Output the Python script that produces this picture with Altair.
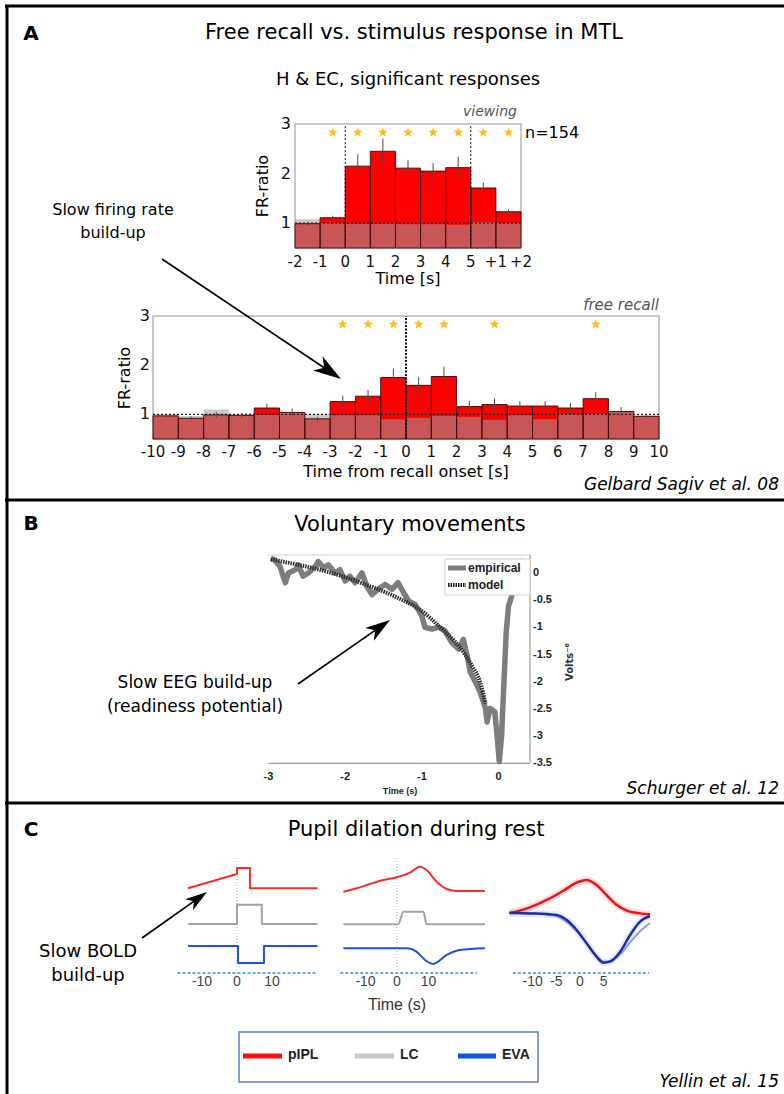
import math
import altair as alt
import pandas as pd

FONT = "DejaVu Sans"
ARIAL = "Liberation Sans"

# ====================== DATA ======================
# ---- Panel A, top: stimulus viewing (FR-ratio per 1 s bin) ----
view_tick_pos = [-2, -1, 0, 1, 2, 3, 4, 5, 6, 7]
view_tick_lab = ["-2", "-1", "0", "1", "2", "3", "4", "5", "+1", "+2"]
view_bin_left = [-2, -1, 0, 1, 2, 3, 4, 5, 6]
view_fr = [0.99, 1.11, 2.15, 2.45, 2.11, 2.05, 2.12, 1.71, 1.23]
view_base = [1.08, 1.00, 0.99, 0.99, 0.98, 0.98, 0.97, 1.02, 1.00]
view_err = [0.04, 0.04, 0.24, 0.26, 0.16, 0.16, 0.22, 0.11, 0.05]
view_star = [0, 1, 1, 1, 1, 1, 1, 1, 1]
view_onoff = [0, 5]

# ---- Panel A, bottom: free recall ----
recall_tick_pos = list(range(-10, 11))
recall_tick_lab = [str(v) for v in recall_tick_pos]
recall_bin_left = list(range(-10, 10))
recall_fr = [0.97, 0.92, 0.99, 0.98, 1.13, 1.04, 0.91, 1.26, 1.37, 1.75,
             1.59, 1.77, 1.16, 1.20, 1.17, 1.17, 1.13, 1.32, 1.06, 0.96]
recall_base = [1.00, 0.97, 1.10, 1.00, 0.99, 1.03, 1.00, 0.98, 0.98, 0.90,
               0.93, 0.97, 0.95, 0.89, 0.98, 0.90, 1.00, 1.01, 1.07, 0.98]
recall_err = [0.04, 0.04, 0.06, 0.05, 0.09, 0.08, 0.04, 0.12, 0.13, 0.18,
              0.17, 0.20, 0.12, 0.13, 0.10, 0.10, 0.10, 0.13, 0.09, 0.04]
recall_star = [0, 0, 0, 0, 0, 0, 0, 1, 1, 1, 1, 1, 0, 1, 0, 0, 0, 1, 0, 0]
recall_onset = [0]

fr_ticks = [1, 2, 3]
fr_ref = 1.0
star_level = 2.83

# ---- Panel B: readiness potential ----
eeg_t = [-2.97, -2.92, -2.85, -2.80, -2.78, -2.74, -2.65, -2.61, -2.55, -2.48,
         -2.39, -2.35, -2.28, -2.22, -2.13, -2.07, -2.00, -1.94, -1.87, -1.78,
         -1.72, -1.65, -1.57, -1.48, -1.39, -1.31, -1.24, -1.17, -1.09, -1.00,
         -0.96, -0.87, -0.78, -0.70, -0.61, -0.52, -0.46, -0.41, -0.37, -0.30,
         -0.24, -0.17, -0.15, -0.11, -0.05, -0.02, 0.01, 0.04, 0.07, 0.10,
         0.13, 0.17, 0.20, 0.26, 0.33]
eeg_v = [0.27, 0.24, 0.12, -0.10, -0.18, 0.00, 0.06, 0.15, -0.06, 0.00,
         0.12, 0.21, 0.09, 0.15, 0.00, 0.06, -0.15, -0.06, -0.18, 0.00,
         -0.24, -0.40, -0.30, -0.21, -0.30, -0.18, -0.36, -0.52, -0.58, -0.79,
         -1.00, -1.03, -1.00, -1.06, -1.28, -1.40, -1.22, -1.52, -1.82, -2.01,
         -2.19, -2.49, -2.74, -2.49, -2.55, -2.98, -3.47, -2.98, -2.01, -1.09,
         -0.61, -0.43, -0.18, 0.06, 0.25]
model_t = [-2.97, -2.61, -2.18, -1.74, -1.31, -1.00, -0.74, -0.52, -0.35, -0.24, -0.17]
model_v = [0.25, 0.15, 0.00, -0.21, -0.46, -0.70, -1.03, -1.34, -1.70, -2.01, -2.40]
volt_ticks = [0, -0.5, -1, -1.5, -2, -2.5, -3, -3.5]
volt_labels = ["0", "-0.5", "-1", "-1.5", "-2", "-2.5", "-3", "-3.5"]
time_b_ticks = [-3, -2, -1, 0]

# ---- Panel C: BOLD / pupil (arbitrary units, stacked traces) ----
c1_red_t = [-14, 0, 0, 3.7, 3.7, 23]
c1_red_v = [77, 90, 95.5, 95.5, 77, 77]
c1_gray_t = [-14, 0, 0, 7.1, 7.1, 23]
c1_gray_v = [44.5, 44.5, 62, 62, 44.5, 44.5]
c1_blue_t = [-14, 0.3, 0.3, 7.7, 7.7, 23]
c1_blue_v = [24.5, 24.5, 9, 9, 24.5, 24.5]

c2_red_t = [-17, -12.8, -8.6, -4.3, 0, 4.1, 7.3, 9.4, 12.6, 15.8, 19, 27.9]
c2_red_v = [73.9, 77, 80.9, 84.5, 87, 91.2, 96.6, 93.6, 83, 76.4, 74.5, 74.5]
c2_gray_t = [-17, 0.4, 2.0, 8.4, 9.4, 27.9]
c2_gray_v = [44.3, 44.3, 55.7, 55.7, 44.3, 44.3]
c2_blue_t = [-17, 3.1, 6.2, 8.9, 11.5, 15.8, 20, 27.9]
c2_blue_v = [22.4, 22.4, 19.4, 11.8, 8.2, 16.4, 20.9, 22.4]

c3_red_t = [-14.9, -10.6, -7.0, -3.5, -0.7, 1.4, 3.5, 5.6, 7.8, 9.9, 12.7, 14.8]
c3_red_v = [54.2, 59.7, 66.4, 74.8, 82.1, 84.5, 80, 70.9, 61.8, 56.7, 54.2, 53.3]
c3_blue_t = [-14.9, -10.6, -7.0, -4.9, -2.8, -0.7, 1.4, 3.5, 4.9, 6.3, 8.5, 10.6, 12.7, 14.8]
c3_blue_v = [54.8, 54.2, 53.6, 52.7, 48.2, 39.1, 27, 14.8, 9.4, 10.3, 19.4, 34.5, 46.7, 51.8]
c3_blue2_v = [54.8, 54.2, 53.0, 51.5, 46.5, 38, 27, 15.5, 10.5, 11, 17, 28, 38, 45.5]

c1_ticks = [-10, 0, 10]
c2_ticks = [-10, 0, 10]
c3_ticks = [-10, -5, 0, 5]
c_base_span1 = [-17, 22.6]
c_base_span2 = [-18, 25.3]
c_base_span3 = [-14.2, 14.6]
c_zero_span = [0, 105]

legend_c = ["pIPL", "LC", "EVA"]

# ====================== HELPERS ======================
W, H = 784, 1094
layers = []


def sc(dom, rng):
    return alt.Scale(domain=list(dom), range=list(rng), nice=False, zero=False)


def one(**kw):
    return pd.DataFrame({k: [v] for k, v in kw.items()})


def txt(text, x, y, size=16, weight="normal", style="normal", align="center",
        color="black", angle=0, font=FONT):
    layers.append(
        alt.Chart(one(t=text)).mark_text(
            align=align, baseline="middle", fontSize=size, fontWeight=weight,
            fontStyle=style, font=font, color=color, angle=angle
        ).encode(x=alt.value(x), y=alt.value(y), text="t:N")
    )


def hrule(x0, x1, y, color="black", width=3):
    layers.append(alt.Chart(one(a=0)).mark_rule(color=color, strokeWidth=width).encode(
        x=alt.value(x0), x2=alt.value(x1), y=alt.value(y)))


def vrule(x, y0, y1, color="black", width=3):
    layers.append(alt.Chart(one(a=0)).mark_rule(color=color, strokeWidth=width).encode(
        x=alt.value(x), y=alt.value(y0), y2=alt.value(y1)))


ARROW = "M0,-1 L0.62,1 L0,0.45 L-0.62,1 Z"
_pts = []
for k in range(10):
    r = 1.0 if k % 2 == 0 else 0.42
    a = -math.pi / 2 + k * math.pi / 5
    _pts.append(f"{r * math.cos(a):.3f},{r * math.sin(a):.3f}")
STAR = "M" + " L".join(_pts) + " Z"


def arrow(x0, y0, x1, y1, head=26, width=1.7):
    dx, dy = x1 - x0, y1 - y0
    L = math.hypot(dx, dy)
    ux, uy = dx / L, dy / L
    cx, cy = x1 - ux * head / 2, y1 - uy * head / 2
    ang = math.degrees(math.atan2(dx, -dy)) % 360
    layers.append(alt.Chart(one(a=0)).mark_rule(color="black", strokeWidth=width).encode(
        x=alt.value(x0), y=alt.value(y0), x2=alt.value(cx), y2=alt.value(cy)))
    layers.append(alt.Chart(one(a=0)).mark_point(
        shape=ARROW, filled=True, color="black", opacity=1, size=head * head,
        angle=ang, strokeWidth=0).encode(x=alt.value(cx), y=alt.value(cy)))


def bar_panel(left, fr, base, err, star, xdom, xr, ydom, yr, tpos, tlab,
              vlines, vdash, vwidth, tick_y, ylab_x):
    xs, ys = sc(xdom, xr), sc(ydom, yr)
    X = lambda f: alt.X(f, scale=xs, axis=None)
    Y = lambda f: alt.Y(f, scale=ys, axis=None)
    df = pd.DataFrame({"x0": left, "fr": fr, "base": base, "err": err, "star": star})
    df["x1"] = df["x0"] + 1
    df["xc"] = df["x0"] + 0.5
    df["lo"] = df["fr"] - df["err"]
    df["hi"] = df["fr"] + df["err"]
    df["b"] = ydom[0]
    df["s"] = star_level
    frame = one(x0=xdom[0], x1=xdom[1], y0=ydom[0], y1=ydom[1])
    layers.append(alt.Chart(frame).mark_rect(fill="white", stroke="#b8b8b8", strokeWidth=1.5)
                  .encode(x=X("x0:Q"), x2="x1:Q", y=Y("y0:Q"), y2="y1:Q"))
    layers.append(alt.Chart(df).mark_rect(color="#ff0000")
                  .encode(x=X("x0:Q"), x2="x1:Q", y=Y("fr:Q"), y2="b:Q"))
    layers.append(alt.Chart(df).mark_rect(color="#9c9c9c", opacity=0.55)
                  .encode(x=X("x0:Q"), x2="x1:Q", y=Y("base:Q"), y2="b:Q"))
    layers.append(alt.Chart(df).mark_rect(fillOpacity=0, stroke="#3a0606", strokeWidth=0.9)
                  .encode(x=X("x0:Q"), x2="x1:Q", y=Y("fr:Q"), y2="b:Q"))
    layers.append(alt.Chart(one(x0=xdom[0], x1=xdom[1], y=fr_ref))
                  .mark_rule(color="#222", strokeWidth=1.3, strokeDash=[2, 2])
                  .encode(x=X("x0:Q"), x2="x1:Q", y=Y("y:Q")))
    vdf = pd.DataFrame({"x": vlines, "y0": ydom[0], "y1": ydom[1]})
    layers.append(alt.Chart(vdf).mark_rule(color="#111", strokeWidth=vwidth, strokeDash=vdash)
                  .encode(x=X("x:Q"), y=Y("y0:Q"), y2="y1:Q"))
    layers.append(alt.Chart(df).mark_rule(color="#5a4444", strokeWidth=1)
                  .encode(x=X("xc:Q"), y=Y("lo:Q"), y2="hi:Q"))
    sdf = df[df["star"] == 1].reset_index(drop=True)
    layers.append(alt.Chart(sdf).mark_point(
        shape=STAR, filled=True, color="#ffbf1a", size=110, opacity=1, strokeWidth=0)
        .encode(x=X("xc:Q"), y=Y("s:Q")))
    tdf = pd.DataFrame({"x": tpos, "lab": tlab})
    layers.append(alt.Chart(tdf).mark_text(fontSize=15, font=FONT, color="#111", baseline="middle")
                  .encode(x=X("x:Q"), y=alt.value(tick_y), text="lab:N"))
    ydf = pd.DataFrame({"y": fr_ticks, "lab": [str(v) for v in fr_ticks]})
    layers.append(alt.Chart(ydf).mark_text(fontSize=16, font=FONT, color="#111", align="right",
                                           baseline="middle")
                  .encode(x=alt.value(ylab_x), y=Y("y:Q"), text="lab:N"))


def series(t, v, xs, ys, color, width=2, interp="linear", opacity=1.0, dash=None):
    df = pd.DataFrame({"t": t, "v": v, "i": list(range(len(t)))})
    kw = dict(color=color, strokeWidth=width, interpolate=interp, opacity=opacity,
              strokeJoin="round", strokeCap="butt")
    if dash:
        kw["strokeDash"] = dash
    layers.append(alt.Chart(df).mark_line(**kw).encode(
        x=alt.X("t:Q", scale=xs, axis=None), y=alt.Y("v:Q", scale=ys, axis=None),
        order=alt.Order("i:Q")))


# ====================== PANEL FRAMES ======================
hrule(5, W, 6)
vrule(7, 5, H)
hrule(5, W, 500)
hrule(5, W, 803)

# ====================== PANEL A ======================
txt("A", 31, 34, size=20, weight="bold")
txt("Free recall vs. stimulus response in MTL", 414, 33, size=21)
txt("H & EC, significant responses", 408, 80, size=18)
txt("viewing", 490, 112, size=14, style="italic", color="#555")
txt("n=154", 525, 133, size=16, align="left")

bar_panel(view_bin_left, view_fr, view_base, view_err, view_star,
          [-2, 7], [295, 521], [0.5, 3], [248, 124], view_tick_pos, view_tick_lab,
          view_onoff, [2, 2], 1, 262, 291)
txt("FR-ratio", 263, 186, size=16, angle=270)
txt("Time [s]", 408, 279, size=16)

txt("free recall", 659, 305, size=15, style="italic", color="#555", align="right")
bar_panel(recall_bin_left, recall_fr, recall_base, recall_err, recall_star,
          [-10, 10], [153, 659], [0.5, 3], [439, 316], recall_tick_pos, recall_tick_lab,
          recall_onset, [2, 1.5], 2, 452, 150)
txt("FR-ratio", 125, 378, size=16, angle=270)
txt("Time from recall onset [s]", 406, 472, size=16)

txt("Slow firing rate", 113, 210, size=16)
txt("build-up", 113, 233, size=16)
arrow(162, 259, 341, 379, head=28)
txt("Gelbard Sagiv et al. 08", 779, 485, size=17, style="italic", align="right")

# ====================== PANEL B ======================
txt("B", 31, 524, size=20, weight="bold")
txt("Voluntary movements", 410, 525, size=21)

xb = sc([-3, 0.41], [268.5, 530])
yb = sc([-3.5, 0.33], [763.3, 555])
XB = lambda f: alt.X(f, scale=xb, axis=None)
YB = lambda f: alt.Y(f, scale=yb, axis=None)
layers.append(alt.Chart(one(x0=-3, x1=0.41, y=0.33)).mark_rule(color="#e0e0e0", strokeWidth=1.5)
              .encode(x=XB("x0:Q"), x2="x1:Q", y=YB("y:Q")))
layers.append(alt.Chart(one(x0=-3, x1=0.41, y=-3.5)).mark_rule(color="#9a9a9a", strokeWidth=1.2)
              .encode(x=XB("x0:Q"), x2="x1:Q", y=YB("y:Q")))
layers.append(alt.Chart(one(x=0.41, y0=-3.5, y1=0.33)).mark_rule(color="#9a9a9a", strokeWidth=1.2)
              .encode(x=XB("x:Q"), y=YB("y0:Q"), y2="y1:Q"))
series(eeg_t, eeg_v, xb, yb, "#7d7d7d", width=5.5)
series(model_t, model_v, xb, yb, "#2a2a2a", width=4, interp="monotone", dash=[1.5, 1])

layers.append(alt.Chart(pd.DataFrame({"y": volt_ticks, "lab": volt_labels}))
              .mark_text(fontSize=11, font=ARIAL, fontWeight="bold", align="left", baseline="middle",
                         color="#222")
              .encode(x=alt.value(533), y=YB("y:Q"), text="lab:N"))
layers.append(alt.Chart(pd.DataFrame({"x": time_b_ticks, "lab": [str(v) for v in time_b_ticks]}))
              .mark_text(fontSize=11, font=ARIAL, fontWeight="bold", baseline="middle", color="#222")
              .encode(x=XB("x:Q"), y=alt.value(777), text="lab:N"))
txt("Time (s)", 400, 791, size=9, weight="bold", font=ARIAL, color="#222")
txt("Volts⁻⁶", 570, 662, size=10, weight="bold", angle=270, color="#333")

# legend of panel B
layers.append(alt.Chart(one(a=0)).mark_rect(fill="white", stroke="#cfcfcf", strokeWidth=1).encode(
    x=alt.value(445), x2=alt.value(530), y=alt.value(559), y2=alt.value(595)))
hrule(448, 466, 568, color="#7d7d7d", width=5)
layers.append(alt.Chart(one(a=0)).mark_rule(color="#1a1a1a", strokeWidth=4, strokeDash=[1.5, 1]).encode(
    x=alt.value(448), x2=alt.value(466), y=alt.value(585)))
txt("empirical", 468, 568, size=12, weight="bold", font=ARIAL, align="left", color="#222")
txt("model", 468, 585, size=12, weight="bold", font=ARIAL, align="left", color="#222")

txt("Slow EEG build-up", 195, 683, size=17)
txt("(readiness potential)", 195, 707, size=17)
arrow(298, 684, 390, 620, head=25)
txt("Schurger et al. 12", 779, 789, size=17, style="italic", align="right")

# ====================== PANEL C ======================
txt("C", 31, 830, size=20, weight="bold")
txt("Pupil dilation during rest", 416, 830, size=21)

yc = sc([0, 100], [973, 863])
RED, GRAY, BLUE = "#ff2a2a", "#a3a3a3", "#1f4fe6"


def c_axis(xs, ticks, span, zero_line):
    X = lambda f: alt.X(f, scale=xs, axis=None)
    layers.append(alt.Chart(one(x0=span[0], x1=span[1], y=0)).mark_rule(
        color="#5aaee3", strokeWidth=2, strokeDash=[3, 2]).encode(
        x=X("x0:Q"), x2="x1:Q", y=alt.Y("y:Q", scale=yc, axis=None)))
    if zero_line:
        layers.append(alt.Chart(one(x=0, y0=c_zero_span[0], y1=c_zero_span[1])).mark_rule(
            color="#86b4d8", strokeWidth=1, strokeDash=[1, 2]).encode(
            x=X("x:Q"), y=alt.Y("y0:Q", scale=yc, axis=None), y2="y1:Q"))
    layers.append(alt.Chart(pd.DataFrame({"x": ticks, "lab": [str(v) for v in ticks]}))
                  .mark_text(fontSize=14, font=ARIAL, color="#444", baseline="middle")
                  .encode(x=X("x:Q"), y=alt.value(982), text="lab:N"))


xc1 = sc([-14, 23], [188, 317.5])
c_axis(xc1, c1_ticks, c_base_span1, True)
series(c1_red_t, c1_red_v, xc1, yc, RED)
series(c1_gray_t, c1_gray_v, xc1, yc, GRAY)
series(c1_blue_t, c1_blue_v, xc1, yc, BLUE)

xc2 = sc([-17, 28], [343.45, 485.2])
c_axis(xc2, c2_ticks, c_base_span2, True)
series(c2_red_t, c2_red_v, xc2, yc, RED, interp="monotone")
series(c2_gray_t, c2_gray_v, xc2, yc, GRAY, interp="monotone")
series(c2_blue_t, c2_blue_v, xc2, yc, BLUE, interp="monotone")

xc3 = sc([-15, 15], [509.05, 650.95])
c_axis(xc3, c3_ticks, c_base_span3, False)
series(c3_red_t, c3_red_v, xc3, yc, "#ff3030", width=7, interp="monotone", opacity=0.18)
series(c3_blue_t, c3_blue_v, xc3, yc, "#6070e0", width=7, interp="monotone", opacity=0.15)
series(c3_blue_t, c3_blue2_v, xc3, yc, "#8c9ae6", width=2, interp="monotone")
series(c3_red_t, c3_red_v, xc3, yc, "#e8141c", width=2.5, interp="monotone")
series(c3_blue_t, c3_blue_v, xc3, yc, "#1c2f9e", width=2.5, interp="monotone")

txt("Time (s)", 397, 1005, size=16, font=ARIAL, color="#333")
txt("Slow BOLD", 88, 952, size=18)
txt("build-up", 88, 976, size=18)
arrow(142, 938, 207, 892, head=22)

# legend of panel C
layers.append(alt.Chart(one(a=0)).mark_rect(fill="white", stroke="#5b84b1", strokeWidth=1.5).encode(
    x=alt.value(239), x2=alt.value(538), y=alt.value(1032), y2=alt.value(1082)))
for (x0, x1, col, name) in [(243, 282, "#ff1010", legend_c[0]),
                            (355, 394, "#c8c8c8", legend_c[1]),
                            (458, 496, "#1155dd", legend_c[2])]:
    hrule(x0, x1, 1056, color=col, width=5)
    txt(name, x1 + 6, 1055, size=14, weight="bold", font=ARIAL, align="left", color="#222")

txt("Yellin et al. 15", 779, 1082, size=17, style="italic", align="right")

# ====================== ASSEMBLE ======================
chart = alt.layer(*layers).resolve_scale(x="independent", y="independent").properties(
    width=W, height=H, padding=0, autosize=alt.AutoSizeParams(type="none"), background="white"
).configure_view(stroke=None)

chart.save("out.html", embed_options={"renderer": "svg", "actions": False})
